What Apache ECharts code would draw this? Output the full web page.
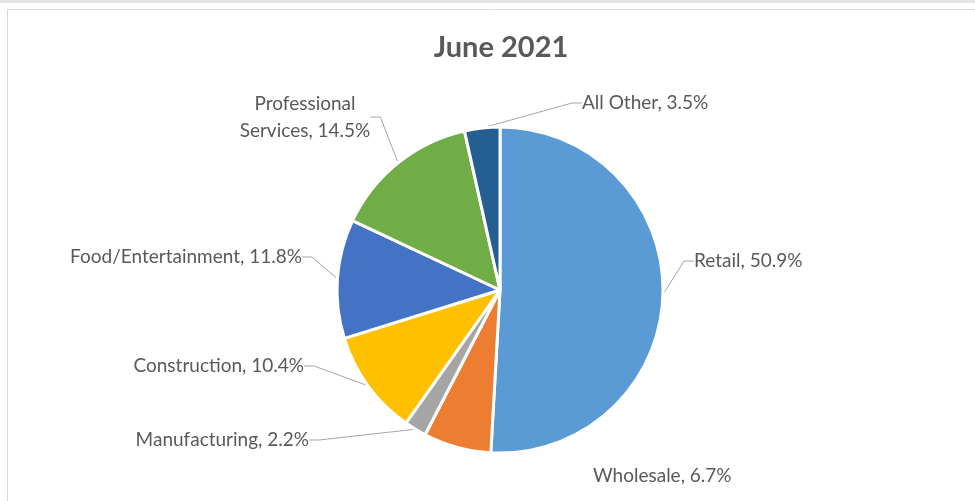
<!DOCTYPE html>
<html>
<head>
<meta charset="utf-8">
<script src="https://cdn.jsdelivr.net/npm/echarts@6/dist/echarts.min.js"></script>
<style>
  html, body { margin: 0; padding: 0; background: #ffffff; }
  #chart { width: 975px; height: 501px; }
</style>
</head>
<body>
<div id="chart"></div>
<script>
// Business share by sector, June 2021 (percent of total)
const chartTitle = 'June 2021';
const categories = ['Retail', 'Wholesale', 'Manufacturing', 'Construction',
                    'Food/Entertainment', 'Professional\nServices', 'All Other'];
const shares = [50.9, 6.7, 2.2, 10.4, 11.8, 14.5, 3.5];
const sliceColors = ['#5B9BD5', '#ED7D31', '#A5A5A5', '#FFC000', '#4472C4', '#70AD47', '#255E91'];

// Where each label sits around the pie (anchor point and alignment)
const labelSpots = [
  { x: 694, y: 261, align: 'left' },
  { x: 593, y: 476, align: 'left' },
  { x: 309, y: 440, align: 'right' },
  { x: 304, y: 366, align: 'right' },
  { x: 302, y: 257, align: 'right' },
  { x: 305, y: 117, align: 'center' },
  { x: 582, y: 103, align: 'left' }
];

const pieData = categories.map((name, i) => ({
  name: name,
  value: shares[i],
  itemStyle: { color: sliceColors[i] },
  labelLine: { show: name !== 'Wholesale' }
}));

const chart = echarts.init(document.getElementById('chart'), null, { renderer: 'canvas' });

chart.setOption({
  animation: false,
  backgroundColor: '#ffffff',
  title: {
    text: chartTitle,
    left: 496,
    textAlign: 'center',
    top: 28,
    textStyle: {
      fontFamily: 'Lato',
      fontWeight: 'bold',
      fontSize: 29,
      color: '#595959'
    }
  },
  graphic: [
    { type: 'rect', shape: { x: 0, y: 0, width: 975, height: 3 },
      style: { fill: '#e3e3e3' }, silent: true },
    { type: 'rect', shape: { x: 7.5, y: 9.5, width: 1000, height: 520 },
      style: { fill: 'none', stroke: '#d9d9d9', lineWidth: 1 }, silent: true }
  ],
  series: [{
    type: 'pie',
    center: [500, 290],
    radius: [0, 163],
    startAngle: 90,
    clockwise: true,
    avoidLabelOverlap: false,
    data: pieData,
    itemStyle: { borderColor: '#ffffff', borderWidth: 3 },
    label: {
      show: true,
      fontFamily: 'Lato',
      fontSize: 19,
      color: '#595959',
      lineHeight: 27,
      formatter: p => p.name + ', ' + p.value.toFixed(1) + '%'
    },
    labelLine: {
      show: true,
      length: 10,
      length2: 10,
      lineStyle: { color: '#a6a6a6', width: 1 }
    },
    labelLayout: params => {
      const spot = labelSpots[params.dataIndex];
      return { x: spot.x, y: spot.y, align: spot.align, verticalAlign: 'middle' };
    }
  }]
});
</script>
</body>
</html>
